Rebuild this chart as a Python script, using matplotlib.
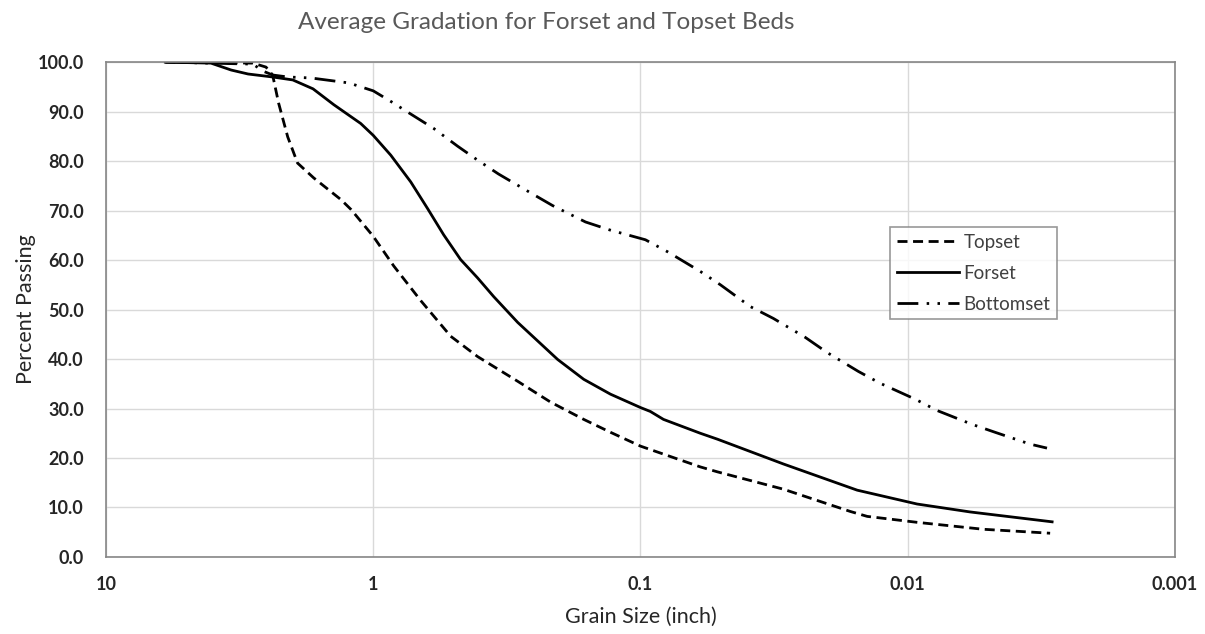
import numpy as np
import matplotlib.pyplot as plt
from matplotlib.ticker import FixedLocator, FixedFormatter, FuncFormatter

plt.rcParams['font.family'] = ['Lato', 'DejaVu Sans']

# grain size (inch) vs percent passing
topset_size = [6.0, 2.82, 2.52, 2.38, 2.26, 2.09, 1.92, 1.67, 1.32, 1.21, 1.0, 0.838, 0.664,
               0.513, 0.407, 0.340, 0.288, 0.217, 0.163, 0.1295, 0.1, 0.0597, 0.0515, 0.0292,
               0.0164, 0.01417, 0.00922, 0.00522, 0.00293]
topset_pct = [100, 99.8, 99.0, 97.4, 91.7, 84.9, 79.6, 76.6, 72.2, 70.2, 64.8, 58.8, 51.8,
              44.6, 40.5, 37.9, 35.5, 31.3, 27.8, 25.2, 22.4, 18.2, 17.2, 13.7,
              9.2, 8.2, 7.0, 5.6, 4.8]

forset_size = [6.0, 4.05, 3.4, 2.94, 2.38, 2.0, 1.68, 1.405, 1.114, 1.0, 0.860, 0.724, 0.626,
               0.545, 0.471, 0.407, 0.354, 0.288, 0.204, 0.163, 0.1295, 0.1, 0.0918, 0.082,
               0.0597, 0.0515, 0.0292, 0.01545, 0.00922, 0.00584, 0.00288]
forset_pct = [100, 99.8, 98.4, 97.6, 97.0, 96.4, 94.6, 91.4, 87.6, 85.2, 81.2, 75.8, 70.4,
              65.1, 60.1, 56.4, 52.6, 47.4, 39.9, 35.9, 32.9, 30.2, 29.4, 27.8,
              25.0, 23.8, 18.8, 13.5, 10.7, 9.1, 7.1]

bottom_size = [6.0, 2.82, 2.59, 2.38, 2.09, 1.71, 1.235, 1.0, 0.838, 0.769, 0.594, 0.483,
               0.407, 0.340, 0.258, 0.213, 0.1606, 0.1306, 0.0958, 0.0793, 0.0597, 0.0502,
               0.0388, 0.0318, 0.0242, 0.0200, 0.0153, 0.01267, 0.00938, 0.00776, 0.00574,
               0.00471, 0.00348, 0.00301]
bottom_pct = [100, 99.6, 98.2, 97.4, 97.0, 96.8, 95.8, 94.2, 91.7, 90.4, 86.6, 83.0,
              80.2, 77.4, 73.6, 71.0, 67.7, 66.1, 64.1, 61.7, 57.7, 55.0,
              50.6, 48.2, 44.4, 41.3, 37.5, 35.1, 31.9, 29.6, 26.8,
              25.2, 22.8, 22.0]

xticks = [10, 1, 0.1, 0.01, 0.001]
xtick_labels = ['10', '1', '0.1', '0.01', '0.001']
yticks = np.arange(0, 101, 10)

fig = plt.figure(figsize=(12.05, 6.34), dpi=100)
ax = fig.add_axes([0.088, 0.1215, 0.887, 0.7805])

lw = 2.0
ax.plot(topset_size, topset_pct, color='black', lw=lw, dashes=(3.6, 2.0), label='Topset')
ax.plot(forset_size, forset_pct, color='black', lw=lw, label='Forset')
ax.plot(bottom_size, bottom_pct, color='black', lw=lw,
        dashes=(7.5, 3.0, 0.9, 3.0, 0.9, 3.0), label='Bottomset')

ax.set_xscale('log')
ax.set_xlim(10, 0.001)
ax.set_ylim(0, 100)
ax.xaxis.set_major_locator(FixedLocator(xticks))
ax.xaxis.set_major_formatter(FixedFormatter(xtick_labels))
ax.xaxis.set_minor_locator(FixedLocator([]))
ax.set_yticks(yticks)
ax.yaxis.set_major_formatter(FuncFormatter(lambda v, p: '%.1f' % v))

ax.grid(True, color='#d9d9d9', lw=1.0)
ax.set_axisbelow(True)
for s in ax.spines.values():
    s.set_color('#868686')
    s.set_linewidth(1.2)
ax.tick_params(length=0, labelsize=13, labelcolor='#262626')
ax.tick_params(axis='x', pad=14)
ax.tick_params(axis='y', pad=16)
for lab in ax.get_xticklabels() + ax.get_yticklabels():
    lab.set_fontweight('bold')

ax.set_xlabel('Grain Size (inch)', fontsize=15.5, color='#262626', labelpad=10)
ax.set_ylabel('Percent Passing', fontsize=15.5, color='#262626', labelpad=1)
fig.text(0.453, 0.965, 'Average Gradation for Forset and Topset Beds', fontsize=17.5,
         color='#595959', ha='center', va='center')

leg = ax.legend(loc='upper left', bbox_to_anchor=(0.739, 0.642),
                bbox_transform=fig.transFigure, fontsize=13.5, frameon=True,
                fancybox=False, edgecolor='#7f7f7f', handlelength=3.3,
                handletextpad=0.25, borderpad=0.35, labelspacing=0.75,
                borderaxespad=0)
leg.get_frame().set_linewidth(1.2)
for t in leg.get_texts():
    t.set_color('#404040')

fig.savefig('out.png', dpi=100)
